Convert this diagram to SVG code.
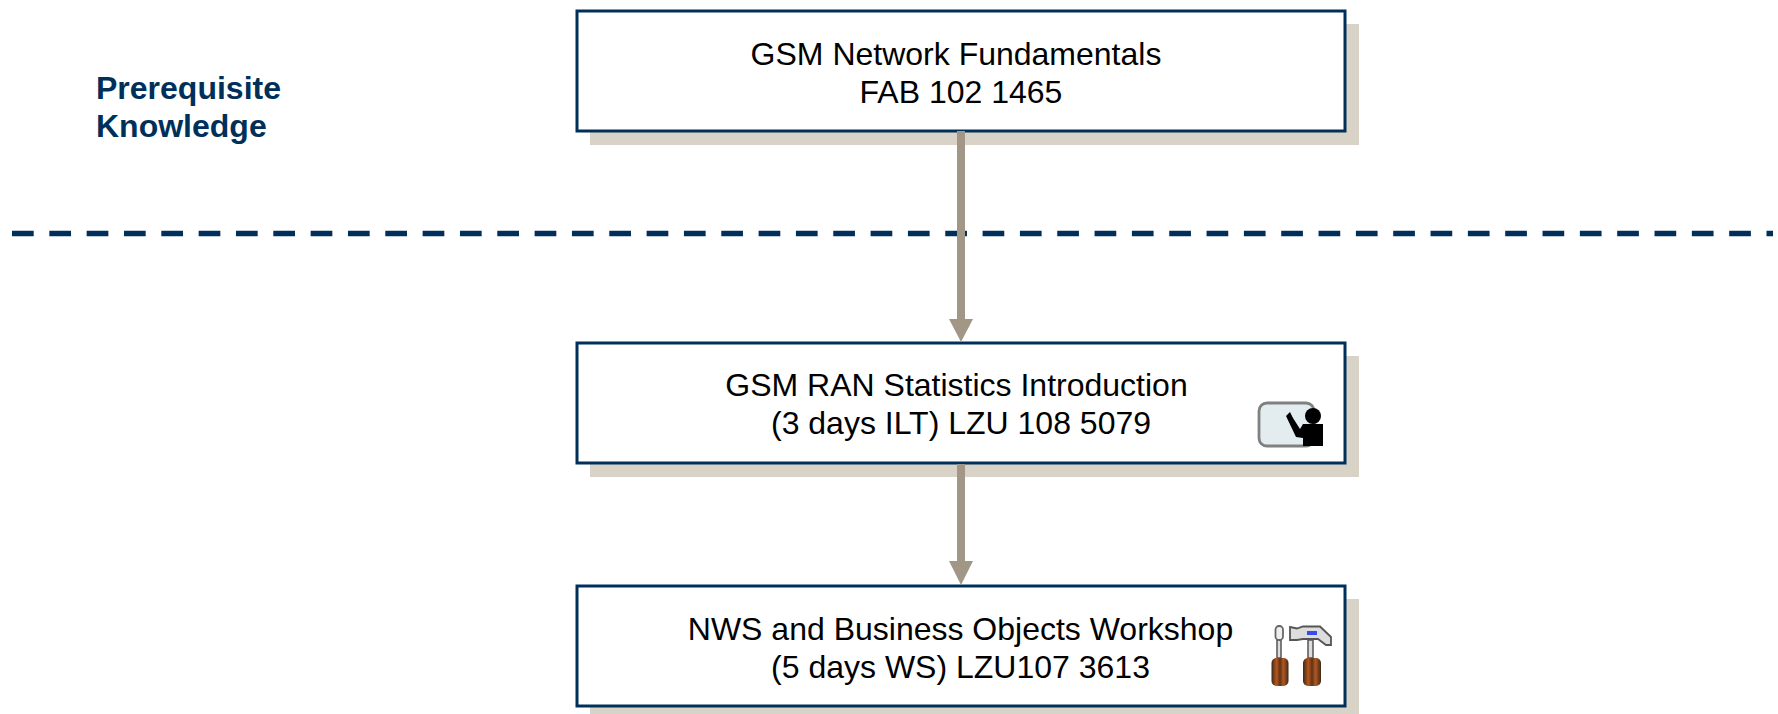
<svg xmlns="http://www.w3.org/2000/svg" width="1778" height="714" viewBox="0 0 1778 714">
<defs>
<linearGradient id="grip" x1="0" x2="1" y1="0" y2="0"><stop offset="0" stop-color="#3b2a1c"/><stop offset=".3" stop-color="#b5561e"/><stop offset=".5" stop-color="#5e3418"/><stop offset=".7" stop-color="#b5561e"/><stop offset="1" stop-color="#3b2a1c"/></linearGradient>
<filter id="soft" x="-10%" y="-10%" width="120%" height="120%"><feGaussianBlur stdDeviation="0.600"/></filter>
</defs>
<style>
.shadow{fill:#d9d2c6}
.box{fill:#fff;stroke:#00305a;stroke-width:3}
.t{font-family:"Liberation Sans",Arial,sans-serif;font-size:32px;fill:#000;text-anchor:middle}
.h{font-family:"Liberation Sans",Arial,sans-serif;font-size:32px;font-weight:bold;fill:#00305a}
.conn{stroke:#a29686;stroke-width:8;fill:none}
.head{fill:#a29686}
.grip{fill:url(#grip)}
</style>
<rect width="1778" height="714" fill="#fff"/>
<g id="label"><text class="h" x="96" y="99">Prerequisite</text><text class="h" x="96" y="137">Knowledge</text></g>
<line id="divider" x1="12" y1="233.500" x2="1773" y2="233.500" stroke="#00305a" stroke-width="5.500" stroke-dasharray="21.700 15.630"/>
<g id="node1"><rect class="shadow" x="590" y="24" width="769" height="121"/><rect class="box" x="577" y="11" width="768" height="120"/>
<text class="t" x="956" y="65">GSM Network Fundamentals</text><text class="t" x="961" y="103">FAB 102 1465</text></g>
<g id="node2"><rect class="shadow" x="590" y="356" width="769" height="121"/><rect class="box" x="577" y="343" width="768" height="120"/>
<text class="t" x="956.500" y="396">GSM RAN Statistics Introduction</text><text class="t" x="961" y="434">(3 days ILT) LZU 108 5079</text>
<g id="icon-teacher" filter="url(#soft)"><rect x="1259" y="403" width="55" height="43" rx="8" fill="#e3ecee" stroke="#808080" stroke-width="2.800"/>
<circle cx="1313" cy="416" r="8" fill="#000"/><path d="M1303 424H1323V446H1303V438L1296 437L1286 416L1290 412L1293 418L1300 429Z" fill="#000"/></g></g>
<g id="node3"><rect class="shadow" x="590" y="599" width="769" height="121"/><rect class="box" x="577" y="586" width="768" height="120"/>
<text class="t" x="960.500" y="640">NWS and Business Objects Workshop</text><text class="t" x="960.500" y="678">(5 days WS) LZU107 3613</text>
<g id="icon-tools" filter="url(#soft)">
<path d="M1277 640H1281V658H1277Z" fill="#ddd" stroke="#555" stroke-width="1.500"/><rect x="1275.500" y="626" width="7.500" height="14" rx="3.500" fill="#eee" stroke="#666" stroke-width="1.800"/>
<rect x="1271.500" y="658" width="17" height="28" rx="5" class="grip"/>
<path d="M1308 640H1313V658H1308Z" fill="#ddd" stroke="#555" stroke-width="1.500"/>
<path d="M1290 627L1297 628.500L1303 626.500H1320L1331 637V645L1326 645L1318 639H1303L1297 640H1290Z" fill="#ddd" stroke="#555" stroke-width="1.800"/><rect x="1307" y="631" width="10" height="4" fill="#3a4cf0"/>
<rect x="1303" y="658" width="18" height="28" rx="5" class="grip"/></g></g>
<g id="connectors">
<line class="conn" x1="961" y1="131" x2="961" y2="320"/><path class="head" d="M949 319H973L961 342Z"/>
<line class="conn" x1="961" y1="464" x2="961" y2="562"/><path class="head" d="M949 561H973L961 585Z"/>
</g>
</svg>
